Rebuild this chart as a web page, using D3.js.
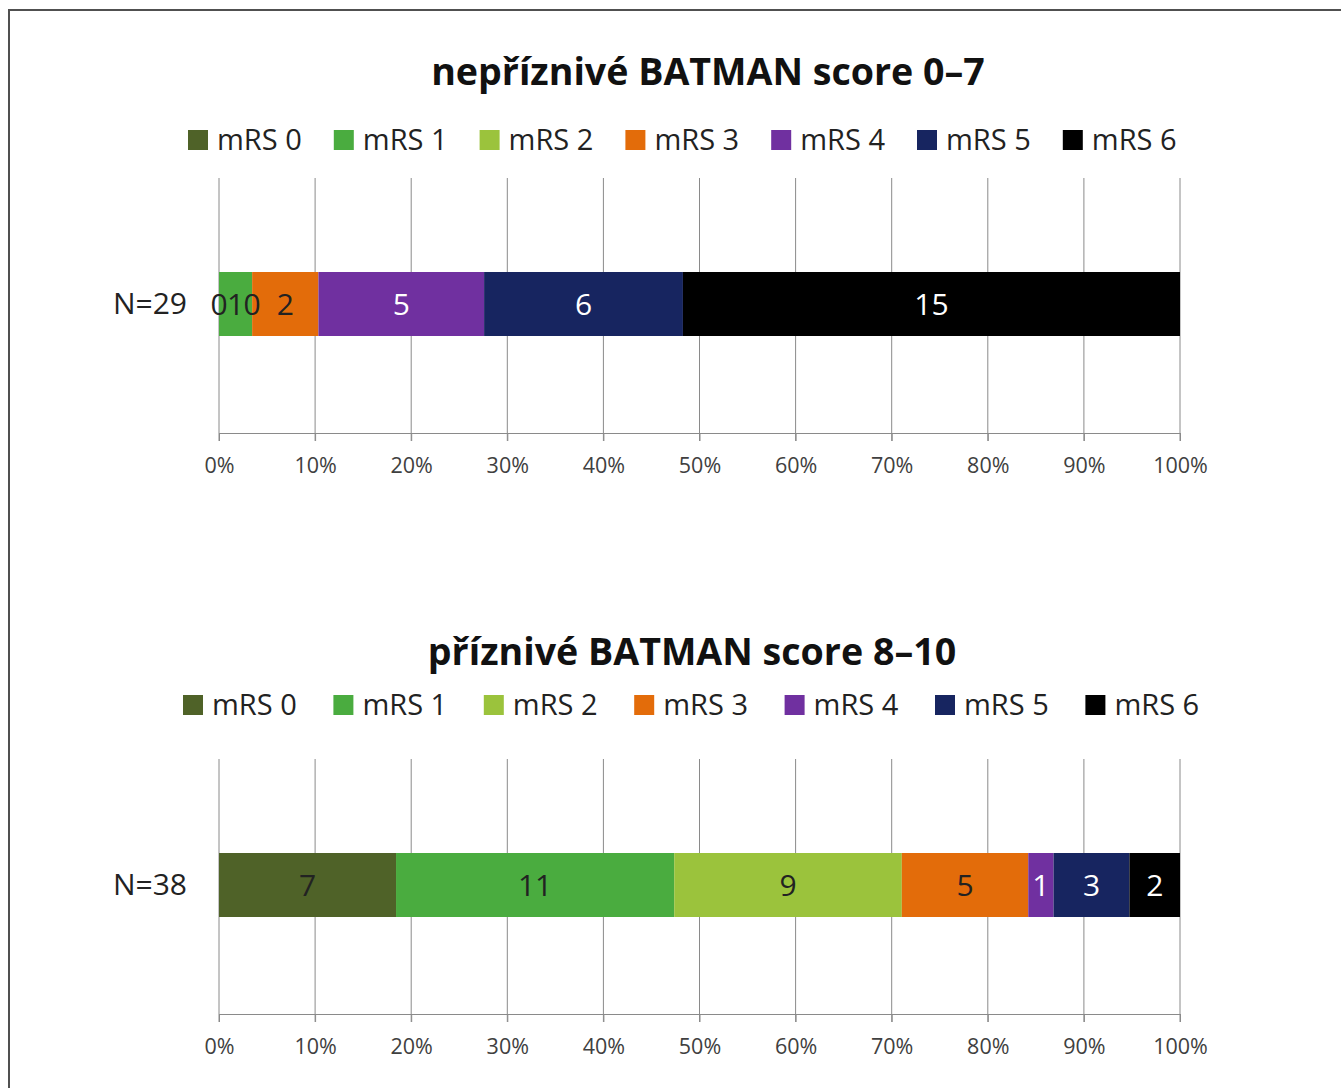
<!DOCTYPE html>
<html>
<head>
<meta charset="utf-8">
<script src="https://cdn.jsdelivr.net/npm/d3@7"></script>
<style>
  body { margin: 0; background: #fff; }
  text { font-family: "Open Sans", "Noto Sans", sans-serif; }
</style>
</head>
<body>
<svg id="chart" width="1341" height="1088"></svg>
<script>
var categories = ['mRS 0', 'mRS 1', 'mRS 2', 'mRS 3', 'mRS 4', 'mRS 5', 'mRS 6'];
var colors = ['#4f6228', '#4aac3f', '#9bc33c', '#e36c0a', '#7030a0', '#172560', '#000000'];
var labelColors = ['#222', '#222', '#222', '#222', '#fff', '#fff', '#fff'];
var unfavourable = [0, 1, 0, 2, 5, 6, 15];
var favourable = [7, 11, 9, 5, 1, 3, 2];
var titles = ['nepříznivé BATMAN score 0–7', 'příznivé BATMAN score 8–10'];
var rowLabels = ['N=29', 'N=38'];
var tickValues = [0, 0.1, 0.2, 0.3, 0.4, 0.5, 0.6, 0.7, 0.8, 0.9, 1];

var svg = d3.select('#chart');

// outer frame (runs off the right and bottom edge)
svg.append('rect')
  .attr('x', 9).attr('y', 10)
  .attr('width', 1400).attr('height', 1200)
  .attr('fill', 'none')
  .attr('stroke', '#505050')
  .attr('stroke-width', 2);

var x = d3.scaleLinear().domain([0, 1]).range([219, 1180]);

function panel(opts) {
  var g = svg.append('g').attr('transform', 'translate(0,' + opts.top + ')');
  var total = d3.sum(opts.values);
  var cum = d3.cumsum(opts.values);
  var segs = opts.values.map(function (v, i) {
    return { i: i, v: v, x0: (cum[i] - v) / total, x1: cum[i] / total };
  });

  // title
  g.append('text')
    .attr('x', opts.titleX).attr('y', 1)
    .attr('text-anchor', 'middle')
    .attr('font-size', 37.6)
    .attr('font-weight', 'bold')
    .attr('fill', '#111')
    .text(opts.title);

  // legend
  var leg = g.selectAll('g.leg')
    .data(categories)
    .enter().append('g')
    .attr('class', 'leg')
    .attr('transform', function (d, i) {
      return 'translate(' + (opts.legX + i * opts.legStep) + ',' + opts.legY + ')';
    });
  leg.append('rect')
    .attr('x', 0).attr('y', -10)
    .attr('width', 20).attr('height', 20)
    .attr('fill', function (d, i) { return colors[i]; });
  leg.append('text')
    .attr('x', 29).attr('y', 10)
    .attr('font-size', 29)
    .attr('fill', '#222')
    .text(function (d) { return d; });

  // gridlines + axis
  var axisY = opts.gridTop + 255;
  g.selectAll('line.grid')
    .data(tickValues)
    .enter().append('line')
    .attr('class', 'grid')
    .attr('x1', x).attr('x2', x)
    .attr('y1', opts.gridTop).attr('y2', axisY + 8)
    .attr('stroke', '#8a8a8a')
    .attr('stroke-width', 1);

  var axis = d3.axisBottom(x)
    .tickValues(tickValues)
    .tickFormat(d3.format('.0%'))
    .tickSize(8)
    .tickPadding(17);
  var ax = g.append('g')
    .attr('transform', 'translate(0,' + axisY + ')')
    .call(axis);
  ax.select('.domain').attr('stroke', '#8a8a8a');
  ax.selectAll('.tick line').attr('stroke', '#8a8a8a');
  ax.selectAll('.tick text')
    .attr('font-family', '"Open Sans", sans-serif')
    .attr('font-size', 21.5)
    .attr('fill', '#404040');

  // bar
  var barY = opts.gridTop + 94;
  var barH = 64;
  g.selectAll('rect.seg')
    .data(segs)
    .enter().append('rect')
    .attr('class', 'seg')
    .attr('x', function (d) { return x(d.x0); })
    .attr('y', barY)
    .attr('width', function (d) { return x(d.x1) - x(d.x0); })
    .attr('height', barH)
    .attr('fill', function (d) { return colors[d.i]; });

  g.selectAll('text.val')
    .data(segs)
    .enter().append('text')
    .attr('class', 'val')
    .attr('x', function (d) { return x((d.x0 + d.x1) / 2); })
    .attr('y', barY + barH / 2 + 11)
    .attr('text-anchor', 'middle')
    .attr('font-size', 30)
    .attr('fill', function (d) { return labelColors[d.i]; })
    .text(function (d) { return d.v; });

  g.append('text')
    .attr('x', 187).attr('y', barY + barH / 2 + 10)
    .attr('text-anchor', 'end')
    .attr('font-size', 30)
    .attr('fill', '#222')
    .text(opts.rowLabel);
}

panel({
  top: 84, title: titles[0], titleX: 708, values: unfavourable, rowLabel: rowLabels[0],
  legX: 188, legStep: 145.8, legY: 140 - 84, gridTop: 178 - 84
});
panel({
  top: 664, title: titles[1], titleX: 692, values: favourable, rowLabel: rowLabels[1],
  legX: 183, legStep: 150.4, legY: 705 - 664, gridTop: 759 - 664
});
</script>
</body>
</html>
